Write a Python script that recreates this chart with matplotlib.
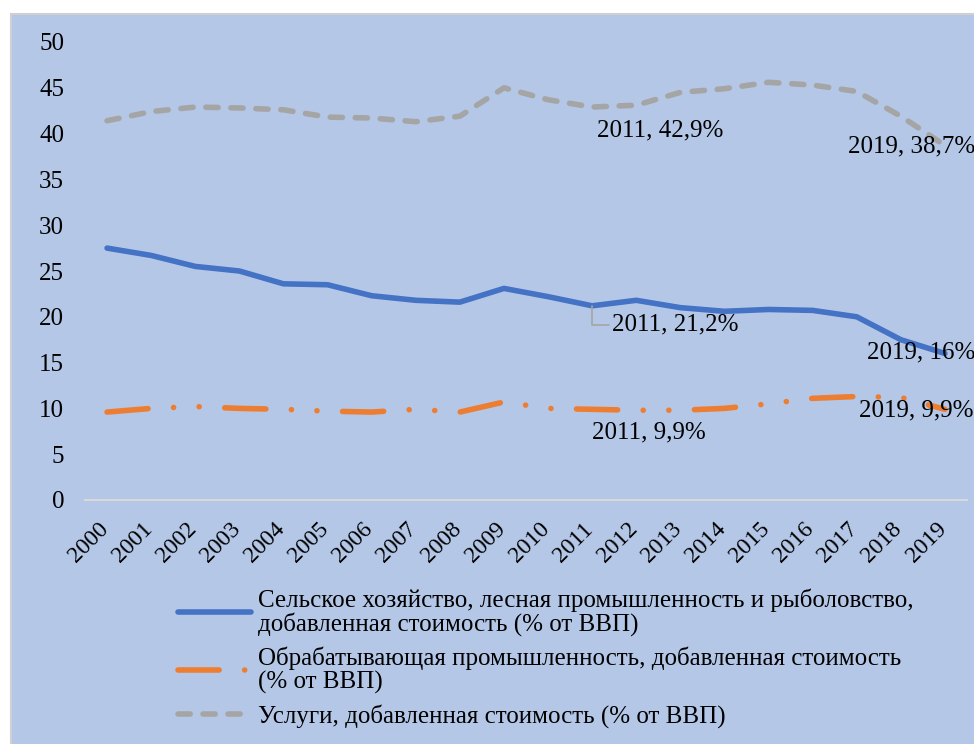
import matplotlib.pyplot as plt
from matplotlib.patches import Rectangle
from matplotlib.transforms import ScaledTranslation

plt.rcParams['font.family'] = ['Liberation Serif', 'DejaVu Serif']

years = list(range(2000, 2020))
agri = [27.5, 26.7, 25.5, 25.0, 23.6, 23.5, 22.3, 21.8, 21.6, 23.1,
        22.2, 21.2, 21.8, 21.0, 20.6, 20.8, 20.7, 20.0, 17.5, 16.0]
manuf = [9.6, 10.0, 10.2, 10.0, 9.9, 9.7, 9.6, 9.9, 9.6, 10.7,
         10.0, 9.9, 9.8, 9.8, 10.0, 10.5, 11.1, 11.3, 11.2, 9.9]
serv = [41.4, 42.4, 42.9, 42.8, 42.6, 41.8, 41.7, 41.3, 41.9, 45.0,
        43.7, 42.9, 43.1, 44.5, 44.9, 45.6, 45.3, 44.6, 41.9, 38.7]
labels = ['Сельское хозяйство, лесная промышленность и рыболовство,\nдобавленная стоимость (% от ВВП)',
          'Обрабатывающая промышленность, добавленная стоимость\n(% от ВВП)',
          'Услуги, добавленная стоимость (% от ВВП)']

bg = '#B4C7E7'
W, H = 974, 744
fig = plt.figure(figsize=(W / 100, H / 100), dpi=100, facecolor='white')
# панель с фоном
fig.patches.append(Rectangle((11 / W, -0.01), 1.01 - 11 / W, 1.01 - 14 / H, transform=fig.transFigure,
                             facecolor=bg, edgecolor='#D0D0D0', linewidth=1.5, zorder=-10))

ax = fig.add_axes([85 / W, 1 - 500 / H, (967 - 85) / W, (500 - 42) / H])
ax.set_facecolor('none')

lw = 4.0
l1, = ax.plot(years, agri, color='#4472C4', lw=lw, solid_capstyle='round', solid_joinstyle='round')
l2, = ax.plot(years, manuf, color='#ED7D31', lw=lw, dash_capstyle='round',
              dashes=(7.4, 4.6, 0.01, 4.6, 0.01, 4.6))
l3, = ax.plot(years, serv, color='#A5A5A5', lw=lw, dash_capstyle='round', dashes=(2.2, 2.3))

ax.set_xlim(1999.5, 2019.5)
ax.set_ylim(0, 50)
ax.set_yticks(range(0, 51, 5))
ax.set_xticks(years)
ax.tick_params(axis='y', length=0, pad=15, labelsize=18)
ax.tick_params(axis='x', length=0, pad=0, labelsize=17)
off = ScaledTranslation(-2 / 100, -26 / 100, fig.dpi_scale_trans)
for lab in ax.get_xticklabels():
    lab.set_rotation(45)
    lab.set_rotation_mode('anchor')
    lab.set_ha('right')
    lab.set_va('center')
    lab.set_transform(lab.get_transform() + off)
for s in ['top', 'right', 'left']:
    ax.spines[s].set_visible(False)
ax.spines['bottom'].set_color('#D9D9D9')
ax.spines['bottom'].set_linewidth(1.5)

# подписи данных
ann = dict(textcoords='offset pixels', fontsize=18, va='center', annotation_clip=False)
ax.annotate('2011, 42,9%', (2011, serv[11]), xytext=(5, -23), ha='left', **ann)
ax.annotate('2019, 38,7%', (2019, serv[19]), xytext=(-97, -1), ha='left', **ann)
ax.annotate('2011, 21,2%', (2011, agri[11]), xytext=(20, -19), ha='left',
            arrowprops=dict(arrowstyle='-', color='#A5A5A5', lw=1.2,
                            connectionstyle='angle,angleA=0,angleB=90,rad=0',
                            shrinkA=0, shrinkB=0, relpos=(0, 0.5)), **ann)
ax.annotate('2019, 16%', (2019, agri[19]), xytext=(-78, 1), ha='left', **ann)
ax.annotate('2011, 9,9%', (2011, manuf[11]), xytext=(0, -23), ha='left', **ann)
ax.annotate('2019, 9,9%', (2019, manuf[19]), xytext=(-86, -1), ha='left', **ann)

leg = ax.legend([l1, l2, l3], labels, loc='upper left', bbox_to_anchor=(178 / W, 1 - 588 / H),
                bbox_transform=fig.transFigure, frameon=False, fontsize=18,
                handlelength=2.9, handletextpad=0.32, labelspacing=0.4,
                borderpad=0, borderaxespad=0)
for t in leg.get_texts():
    t.set_linespacing(1.05)

fig.savefig('out.png', dpi=100, facecolor='white')
